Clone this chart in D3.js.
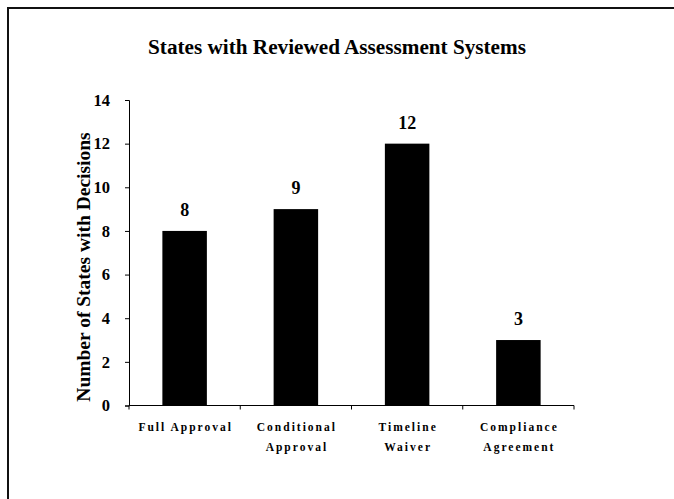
<!DOCTYPE html>
<html>
<head>
<meta charset="utf-8">
<script src="https://cdn.jsdelivr.net/npm/d3@7"></script>
<style>
  html, body { margin: 0; padding: 0; background: #fff; }
  svg { display: block; }
  text { font-family: "Liberation Serif", "Times New Roman", serif; font-weight: bold; fill: #000; }
</style>
</head>
<body>
<svg id="chart" width="674" height="499"></svg>
<script>
// Decision categories (each label may wrap onto two lines)
const categories = ["Full Approval", "Conditional Approval", "Timeline Waiver", "Compliance Agreement"];
const categoryLines = [["Full Approval"], ["Conditional", "Approval"], ["Timeline", "Waiver"], ["Compliance", "Agreement"]];
const stateCounts = [8, 9, 12, 3];
const yTicks = [0, 2, 4, 6, 8, 10, 12, 14];

const svg = d3.select("#chart");

// Frame around the whole chart area
svg.append("rect")
  .attr("x", 8).attr("y", 8)
  .attr("width", 700).attr("height", 600)
  .attr("fill", "none")
  .attr("stroke", "#111")
  .attr("stroke-width", 2);

const plot = { left: 129, right: 574, top: 100, bottom: 405.5 };

const x = d3.scaleBand()
  .domain(categories)
  .range([plot.left, plot.right])
  .paddingInner(0.6)
  .paddingOuter(0.3);

const y = d3.scaleLinear()
  .domain([0, 14])
  .range([plot.bottom, plot.top]);

// Title
svg.append("text")
  .attr("x", 337).attr("y", 54)
  .attr("text-anchor", "middle")
  .style("font-size", "21.2px")
  .text("States with Reviewed Assessment Systems");

// Bars
svg.append("g").selectAll("rect")
  .data(categories)
  .join("rect")
  .attr("x", d => x(d))
  .attr("width", x.bandwidth())
  .attr("y", (d, i) => y(stateCounts[i]))
  .attr("height", (d, i) => y(0) - y(stateCounts[i]))
  .attr("fill", "#000");

// Value labels above bars
svg.append("g").selectAll("text")
  .data(categories)
  .join("text")
  .attr("x", d => x(d) + x.bandwidth() / 2)
  .attr("y", (d, i) => y(stateCounts[i]) - 15)
  .attr("text-anchor", "middle")
  .style("font-size", "18px")
  .text((d, i) => stateCounts[i]);

// Y axis
const yAxis = svg.append("g")
  .attr("transform", `translate(${plot.left},0)`)
  .call(d3.axisLeft(y).tickValues(yTicks).tickSize(4).tickPadding(15).tickFormat(d3.format("d")));
yAxis.select(".domain").attr("stroke", "#000");
yAxis.selectAll(".tick line").attr("stroke", "#000");
yAxis.selectAll(".tick text")
  .attr("font-family", null)
  .attr("font-size", null)
  .style("font-family", "'Liberation Serif', 'Times New Roman', serif")
  .style("font-weight", "bold")
  .style("font-size", "16.5px");

// X axis: ticks sit on the category boundaries
const step = x.step();
const boundaries = d3.range(categories.length + 1).map(i => plot.left + i * step);
const xAxisG = svg.append("g");
xAxisG.append("line")
  .attr("x1", plot.left).attr("x2", plot.right)
  .attr("y1", y(0)).attr("y2", y(0))
  .attr("stroke", "#000");
xAxisG.selectAll("line.tick")
  .data(boundaries)
  .join("line")
  .attr("class", "tick")
  .attr("x1", d => d).attr("x2", d => d)
  .attr("y1", y(0)).attr("y2", y(0) + 4)
  .attr("stroke", "#000");

// Category labels
const catLabels = svg.append("g").selectAll("text")
  .data(categories)
  .join("text")
  .attr("text-anchor", "middle")
  .style("font-size", "11.5px")
  .style("letter-spacing", "2px");
catLabels.each(function(d, i) {
  const t = d3.select(this);
  categoryLines[i].forEach((line, j) => {
    t.append("tspan")
      .attr("x", x(d) + x.bandwidth() / 2 + 1)
      .attr("y", 431 + j * 20)
      .text(line);
  });
});

// Y axis title
svg.append("text")
  .attr("transform", "translate(90,267) rotate(-90)")
  .attr("text-anchor", "middle")
  .style("font-size", "19.5px")
  .text("Number of States with Decisions");
</script>
</body>
</html>
